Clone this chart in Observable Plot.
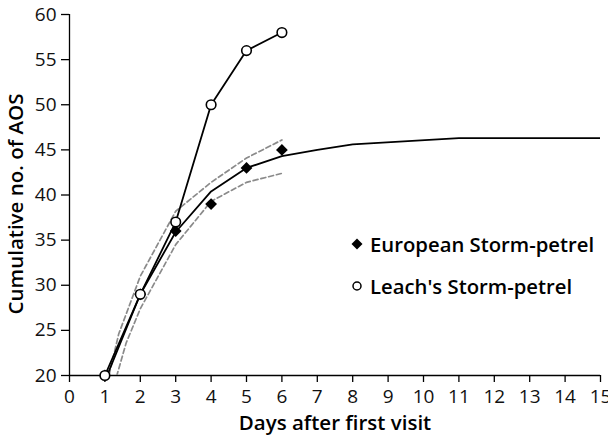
<!DOCTYPE html>
<html><head><meta charset="utf-8">
<script src="https://cdn.jsdelivr.net/npm/d3@7"></script>
<script src="https://cdn.jsdelivr.net/npm/@observablehq/plot@0.6"></script>
<style>
body{margin:0;background:#fff;font-family:"Open Sans",sans-serif}
#wrap{position:relative;width:608px;height:435px}
#legend{position:absolute;left:349px;top:223px;font-weight:600;font-size:20.3px;color:#000;line-height:42px}
#legend div{display:flex;align-items:center;white-space:nowrap}
#legend svg{margin-right:5px}
</style></head><body><div id="wrap"></div>
<script>
const days = [1, 2, 3, 4, 5, 6];
const european = [20, 29, 36, 39, 43, 45];
const leachs = [20, 29, 37, 50, 56, 58];
const fitDays = [1, 2, 3, 4, 5, 6, 7, 8, 11, 15];
const fitValues = [19.4, 29.0, 35.9, 40.4, 43.0, 44.3, 45.0, 45.6, 46.3, 46.3];
const upperDays = [1.12, 1.39, 2, 3, 4, 5, 6];
const upperValues = [20.1, 24.6, 31.0, 38.2, 41.4, 44.1, 46.1];
const lowerDays = [1.33, 1.6, 2, 3, 4, 5, 6];
const lowerValues = [19.9, 23.6, 27.4, 34.5, 39.3, 41.4, 42.4];
const xTicks = d3.range(0, 16);
const yTicks = [20, 25, 30, 35, 40, 45, 50, 55, 60];
const legendLabels = ["European Storm-petrel", "Leach's Storm-petrel"];

const toPts = (xs, ys) => xs.map((x, i) => ({x, y: ys[i]}));
const eu = toPts(days, european);
const le = toPts(days, leachs);
const fit = toPts(fitDays, fitValues);
const up = toPts(upperDays, upperValues);
const lo = toPts(lowerDays, lowerValues);

const font = "'Open Sans', sans-serif";
const chart = Plot.plot({
  width: 608, height: 435,
  marginLeft: 69, marginRight: 8, marginTop: 14, marginBottom: 60,
  style: {fontFamily: font, fontSize: "19px", color: "#000", background: "#fff", overflow: "visible"},
  x: {domain: [0, 15]},
  y: {domain: [20, 60]},
  marks: [
    Plot.axisX({ticks: xTicks, tickSize: 7, tickPadding: 7, label: null, stroke: "#000", strokeWidth: 1.3, fontSize: 19, fill: "#111"}),
    Plot.axisY({ticks: yTicks, tickSize: 8, tickPadding: 5, label: null, stroke: "#000", strokeWidth: 1.3, fontSize: 19, fill: "#111"}),
    Plot.ruleX([0], {stroke: "#000", strokeWidth: 1.3}),
    Plot.ruleY([20], {stroke: "#000", strokeWidth: 1.3}),
    Plot.line(up, {x: "x", y: "y", stroke: "#8a8a8a", strokeWidth: 1.7, strokeDasharray: "5,3", clip: true}),
    Plot.line(lo, {x: "x", y: "y", stroke: "#8a8a8a", strokeWidth: 1.7, strokeDasharray: "5,3", clip: true}),
    Plot.line(fit, {x: "x", y: "y", stroke: "#000", strokeWidth: 1.8, clip: true}),
    Plot.line(le, {x: "x", y: "y", stroke: "#000", strokeWidth: 1.8}),
    Plot.dot(eu, {x: "x", y: "y", symbol: "diamond2", r: 5.3, fill: "#000", stroke: "none"}),
    Plot.dot(le, {x: "x", y: "y", symbol: "circle", r: 4.8, fill: "#fff", stroke: "#000", strokeWidth: 1.6}),
    Plot.text(["Days after first visit"], {frameAnchor: "bottom", dy: 54, fontWeight: 600, fontSize: 20.5, fill: "#000"}),
    Plot.text(["Cumulative no. of AOS"], {frameAnchor: "left", textAnchor: "middle", rotate: -90, dx: -53, dy: 9, fontWeight: 600, fontSize: 20.5, fill: "#000"})
  ]
});
const wrap = document.getElementById("wrap");
wrap.appendChild(chart);
const legend = document.createElement("div");
legend.id = "legend";
legend.innerHTML =
  `<div><svg width="16" height="14" viewBox="-8 -7 16 14"><path d="M0,-5.5L5.5,0L0,5.5L-5.5,0Z" fill="#000"/></svg>${legendLabels[0]}</div>` +
  `<div><svg width="16" height="14" viewBox="-8 -7 16 14"><circle r="4" fill="#fff" stroke="#000" stroke-width="1.5"/></svg>${legendLabels[1]}</div>`;
wrap.appendChild(legend);
</script>
</body></html>
